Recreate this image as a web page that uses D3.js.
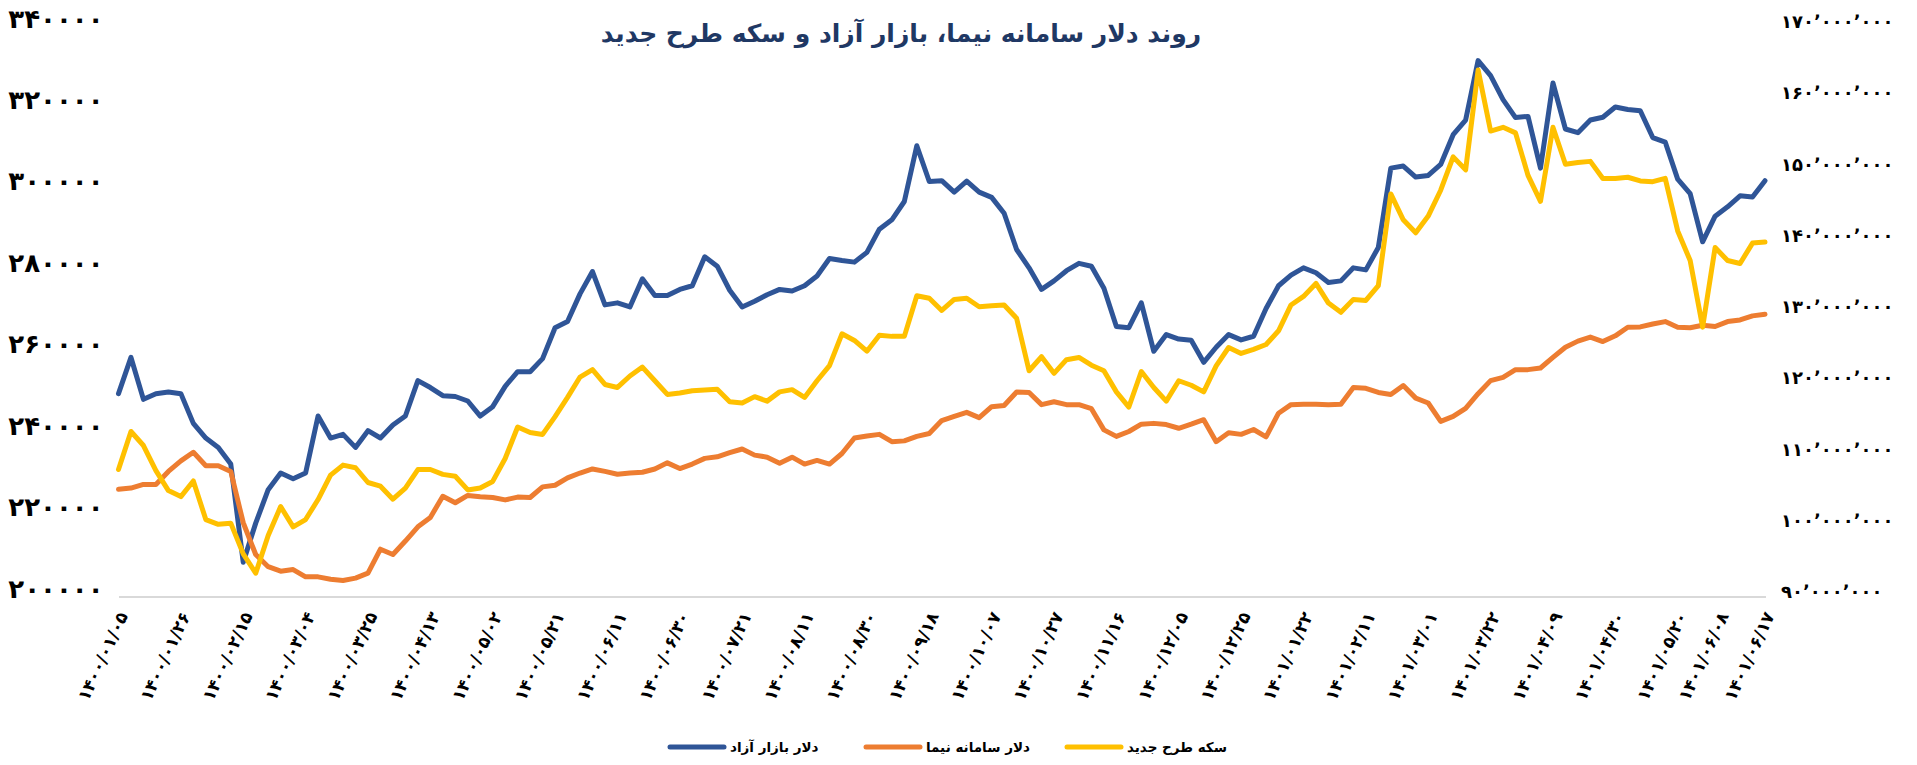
<!DOCTYPE html>
<html>
<head>
<meta charset="utf-8">
<title>روند دلار سامانه نیما، بازار آزاد و سکه طرح جدید</title>
<script src="https://d3js.org/d3.v7.min.js"></script>
<style>
body { margin: 0; background: #fff; }
svg text { font-family: "DejaVu Sans", sans-serif; font-weight: bold; }
.axis path, .axis line { shape-rendering: crispEdges; }
</style>
</head>
<body>
<div id="vis_container"></div>
<script>
var width = 1917, height = 765;
var plotLeft = 118.5, plotRight = 1765, plotTop = 26, plotBottom = 596;
var step = 3; // trading days between two samples

// x axis labels (solar hijri dates) and their trading-day index
var dateLabels = ["1400/01/05", "1400/01/26", "1400/02/15", "1400/03/04", "1400/03/25", "1400/04/13",
    "1400/05/02", "1400/05/21", "1400/06/11", "1400/06/30", "1400/07/21", "1400/08/11", "1400/08/30",
    "1400/09/18", "1400/10/07", "1400/10/27", "1400/11/16", "1400/12/05", "1400/12/25", "1401/01/22",
    "1401/02/11", "1401/03/01", "1401/03/22", "1401/04/09", "1401/04/30", "1401/05/20", "1401/06/08",
    "1401/06/17"];
var labelDays = [0, 15, 30, 45, 60, 75, 90, 105, 120, 135, 150, 165, 180, 195, 210, 225, 240, 255,
    270, 285, 300, 315, 330, 345, 360, 375, 385, 396];

// left axis, thousand rial
var leftTicks = [200, 220, 240, 260, 280, 300, 320, 340];
// right axis, million rial
var rightTicks = [90, 100, 110, 120, 130, 140, 150, 160, 170];

// dollar, free market (thousand rial)
var freeDollar = [249.7, 258.6, 248.3, 249.7, 250.1, 249.7, 242.4, 238.8, 236.5, 232.4,
    208.3, 217.9, 226.1, 230.2, 228.8, 230.2, 244.2, 238.8, 239.7, 236.5,
    240.6, 238.8, 242.0, 244.2, 252.9, 251.2, 249.2, 249.0, 247.9, 244.2,
    246.5, 251.5, 255.1, 255.1, 258.3, 265.9, 267.4, 274.2, 279.7, 271.5,
    272.0, 271.0, 277.9, 273.8, 273.8, 275.3, 276.2, 283.3, 281.0, 275.1,
    271.0, 272.4, 274.0, 275.3, 274.9, 276.2, 278.6, 282.9, 282.4, 282.0,
    284.4, 290.1, 292.4, 296.9, 310.6, 301.8, 302.0, 299.2, 301.9, 299.2,
    297.9, 294.0, 285.1, 280.6, 275.3, 277.4, 279.9, 281.7, 281.0, 275.6,
    266.2, 265.9, 272.0, 260.1, 264.2, 263.1, 262.8, 257.4, 261.1, 264.2,
    262.9, 263.8, 270.6, 276.2, 278.8, 280.6, 279.4, 277.0, 277.4, 280.6,
    280.1, 285.6, 305.1, 305.6, 302.9, 303.3, 306.0, 313.3, 316.9, 331.5,
    327.8, 321.9, 317.5, 317.8, 305.1, 326.0, 314.7, 313.8, 316.9, 317.6,
    320.1, 319.5, 319.2, 312.6, 311.5, 302.4, 298.8, 287.0, 293.3, 295.6,
    298.3, 298.0, 302.0];

// dollar, NIMA system (thousand rial)
var nimaDollar = [226.2, 226.5, 227.4, 227.4, 230.6, 233.2, 235.3, 232.0, 232.0, 230.6,
    218.0, 210.2, 207.2, 206.1, 206.5, 204.7, 204.7, 204.1, 203.8, 204.4,
    205.6, 211.5, 210.2, 213.5, 217.0, 219.3, 224.5, 222.9, 224.7, 224.4,
    224.2, 223.6, 224.3, 224.2, 226.8, 227.2, 229.0, 230.2, 231.2, 230.6,
    229.9, 230.2, 230.4, 231.2, 232.7, 231.3, 232.4, 233.8, 234.2, 235.2,
    236.1, 234.6, 234.1, 232.6, 234.1, 232.4, 233.3, 232.4, 235.0, 238.8,
    239.3, 239.7, 237.9, 238.1, 239.2, 239.9, 243.1, 244.1, 245.1, 243.8,
    246.5, 246.8, 250.1, 250.0, 247.0, 247.7, 247.0, 247.0, 246.0, 240.8,
    239.2, 240.4, 242.2, 242.4, 242.1, 241.2, 242.2, 243.3, 237.9, 240.1,
    239.7, 240.9, 239.1, 244.9, 247.0, 247.1, 247.1, 247.0, 247.1, 251.2,
    251.0, 250.0, 249.5, 251.7, 248.6, 247.4, 242.9, 244.1, 246.1, 249.7,
    252.9, 253.7, 255.6, 255.6, 256.0, 258.6, 261.1, 262.6, 263.6, 262.5,
    263.9, 266.0, 266.1, 266.8, 267.4, 266.0, 265.9, 266.5, 266.2, 267.4,
    267.8, 268.8, 269.2];

// new design gold coin (million rial), right axis
var newCoin = [107.75, 113.09, 111.12, 107.59, 104.79, 103.95, 106.14, 100.73, 100.06, 100.22,
    95.91, 93.20, 98.50, 102.55, 99.70, 100.73, 103.54, 106.97, 108.37, 108.00,
    105.93, 105.41, 103.59, 105.15, 107.75, 107.75, 107.07, 106.81, 104.89, 105.15,
    106.08, 109.30, 113.72, 112.94, 112.68, 115.17, 117.87, 120.73, 121.77, 119.69,
    119.27, 120.88, 122.13, 120.21, 118.29, 118.49, 118.81, 118.91, 119.01, 117.25,
    117.09, 117.98, 117.35, 118.65, 118.96, 117.87, 120.21, 122.34, 126.80, 125.87,
    124.36, 126.60, 126.44, 126.44, 132.15, 131.79, 130.08, 131.63, 131.79, 130.59,
    130.75, 130.85, 128.98, 121.61, 123.58, 121.25, 123.17, 123.48, 122.39, 121.61,
    118.65, 116.52, 121.51, 119.27, 117.35, 120.21, 119.58, 118.65, 122.29, 124.88,
    124.05, 124.62, 125.30, 127.22, 130.85, 132.05, 133.87, 131.11, 129.82, 131.63,
    131.48, 133.56, 146.43, 142.80, 140.98, 143.32, 146.95, 151.63, 149.81, 163.83,
    155.26, 155.78, 155.00, 149.03, 145.39, 155.78, 150.59, 150.85, 151.00, 148.61,
    148.61, 148.77, 148.25, 148.15, 148.61, 141.24, 137.08, 127.74, 138.90, 137.08,
    136.67, 139.53, 139.68];

var seriesNames = ["دلار بازار آزاد", "دلار سامانه نیما", "سکه طرح جدید"];
var seriesColors = ["#2F5597", "#ED7D31", "#FFC000"];

function toFa(s) {
    return String(s).replace(/[0-9]/g, function(c) { return String.fromCharCode(0x06F0 + (+c)); });
}

var svg = d3.select("#vis_container")
    .append("svg")
    .attr("width", width)
    .attr("height", height);

var x = d3.scaleLinear().domain([0, 396]).range([plotLeft, plotRight]);
var yLeft = d3.scaleLinear().domain([200, 340]).range([plotBottom, plotTop]);
var yRight = d3.scaleLinear().domain([90, 170]).range([plotBottom, plotTop]);

// title
svg.append("text")
    .attr("x", 901)
    .attr("y", 33)
    .attr("text-anchor", "middle")
    .attr("dominant-baseline", "central")
    .attr("direction", "rtl")
    .style("font-size", "25px")
    .style("fill", "#1F3864")
    .text("روند دلار سامانه نیما، بازار آزاد و سکه طرح جدید");

// left axis
var gl = svg.append("g")
    .attr("class", "axis")
    .attr("transform", "translate(" + plotLeft + ",0)")
    .call(d3.axisLeft(yLeft).tickValues(leftTicks).tickSize(0).tickPadding(15)
        .tickFormat(function(d) { return toFa(d * 1000); }));
gl.select(".domain").remove();
gl.selectAll("text")
    .attr("dy", null)
    .attr("y", -8)
    .attr("dominant-baseline", "central")
    .style("font-size", "26px")
    .style("fill", "#000");

// right axis
var gr = svg.append("g")
    .attr("class", "axis")
    .attr("transform", "translate(" + plotRight + ",0)")
    .call(d3.axisRight(yRight).tickValues(rightTicks).tickSize(0).tickPadding(16)
        .tickFormat(function(d) { return toFa(d3.format(",")(d * 1000000)).replace(/,/g, "\u066C"); }));
gr.select(".domain").remove();
gr.selectAll("text")
    .attr("dy", null)
    .attr("y", -5)
    .attr("dominant-baseline", "central")
    .style("font-size", "18px")
    .style("fill", "#000");

// bottom axis
var gx = svg.append("g")
    .attr("class", "axis")
    .attr("transform", "translate(0," + plotBottom + ")")
    .call(d3.axisBottom(x).tickValues(labelDays).tickSize(0).tickSizeOuter(0)
        .tickFormat(function(d, i) { return toFa(dateLabels[i]); }));
gx.select(".domain")
    .attr("stroke", "#D9D9D9")
    .attr("stroke-width", 2);
gx.selectAll("text")
    .attr("x", 0)
    .attr("y", 0)
    .attr("dy", null)
    .attr("dominant-baseline", "central")
    .attr("text-anchor", "end")
    .attr("transform", "translate(4,17) rotate(-65)")
    .style("font-size", "17px")
    .style("fill", "#000");

// lines
function lineFor(scale) {
    return d3.line()
        .x(function(d, i) { return x(i * step); })
        .y(function(d) { return scale(d); });
}
var seriesData = [freeDollar, nimaDollar, newCoin];
var seriesScales = [yLeft, yLeft, yRight];
seriesData.forEach(function(data, k) {
    svg.append("path")
        .datum(data)
        .attr("fill", "none")
        .attr("stroke", seriesColors[k])
        .attr("stroke-width", 5)
        .attr("stroke-linejoin", "round")
        .attr("stroke-linecap", "round")
        .attr("d", lineFor(seriesScales[k]));
});

// legend
var legendX = [670, 866, 1067];
var legend = svg.append("g");
seriesNames.forEach(function(name, k) {
    legend.append("line")
        .attr("x1", legendX[k]).attr("x2", legendX[k] + 54)
        .attr("y1", 747).attr("y2", 747)
        .attr("stroke", seriesColors[k])
        .attr("stroke-width", 5)
        .attr("stroke-linecap", "round");
    legend.append("text")
        .attr("x", legendX[k] + 60)
        .attr("y", 747)
        .attr("dominant-baseline", "central")
        .style("font-size", "13.5px")
        .style("fill", "#000")
        .text(name);
});
</script>
</body>
</html>
